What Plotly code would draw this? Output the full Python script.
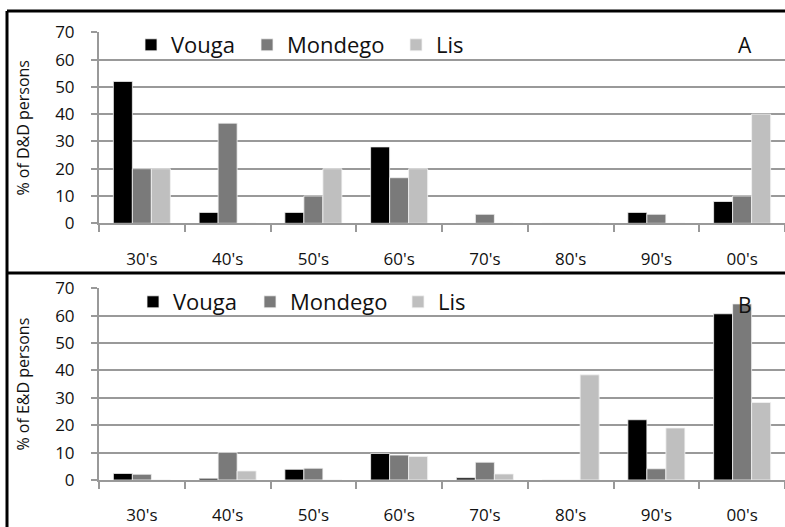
import plotly.graph_objects as go

decades = ["30's", "40's", "50's", "60's", "70's", "80's", "90's", "00's"]
series_names = ["Vouga", "Mondego", "Lis"]

# Panel A: % of D&D persons
dd_vouga = [52, 4, 4, 28, 0, 0, 4, 8]
dd_mondego = [20, 36.7, 10, 16.7, 3.3, 0, 3.3, 10]
dd_lis = [20, 0, 20, 20, 0, 0, 0, 40]

# Panel B: % of E&D persons
ed_vouga = [2.4, 0.6, 3.9, 9.7, 0.8, 0, 22.0, 60.7]
ed_mondego = [2.1, 10.1, 4.3, 9.1, 6.5, 0, 4.1, 64.3]
ed_lis = [0, 3.3, 0, 8.6, 2.2, 38.4, 19.0, 28.3]

y_ticks = [0, 10, 20, 30, 40, 50, 60, 70]
panel_letters = ["A", "B"]
y_titles = ["% of D&D persons", "% of E&D persons"]

colors = ["#000000", "#7a7a7a", "#bfbfbf"]
W, H = 785, 527
FONT = "Open Sans"
GRID = "#999999"

def px_x(p):
    return p / W

def px_y(p):
    return 1 - p / H

fig = go.Figure()

panels = [
    ([dd_vouga, dd_mondego, dd_lis], "x", "y", ["legend", "legend2", "legend3"]),
    ([ed_vouga, ed_mondego, ed_lis], "x2", "y2", ["legend4", "legend5", "legend6"]),
]
for vals, xa, ya, legs in panels:
    for name, v, c, lg in zip(series_names, vals, colors, legs):
        fig.add_trace(go.Bar(
            x=decades, y=v, name=name,
            marker=dict(color=c, line=dict(width=0.8, color="#f2f2f2")),
            xaxis=xa, yaxis=ya, legend=lg, showlegend=True,
        ))

# panel pixel geometry
top_y0, top_y70 = 223.3, 32.3
bot_y0, bot_y70 = 480.0, 288.3
x_left = 99

def xaxis_cfg(anchor):
    return dict(domain=[px_x(x_left), 1], anchor=anchor, type="category",
                showline=True, linecolor=GRID, linewidth=2,
                ticks="outside", tickson="boundaries", ticklen=7, tickcolor=GRID, tickwidth=2,
                ticklabelstandoff=19, showgrid=False,
                tickfont=dict(family=FONT, size=17, color="#111"))

def yaxis_cfg(anchor, y0, y70, title):
    return dict(domain=[px_y(y0), px_y(y70)], anchor=anchor, range=[0, 70],
                tickmode="array", tickvals=y_ticks,
                showline=True, linecolor=GRID, linewidth=2,
                ticks="outside", ticklen=6, tickcolor=GRID, tickwidth=2,
                ticklabelstandoff=13,
                showgrid=True, gridcolor=GRID, gridwidth=2, zeroline=False,
                tickfont=dict(family=FONT, size=17, color="#111"),
                title=dict(text=title, font=dict(family=FONT, size=16, color="#111"), standoff=22))

fig.update_layout(
    width=W, height=H,
    margin=dict(l=0, r=0, t=0, b=0, autoexpand=False),
    paper_bgcolor="white", plot_bgcolor="white",
    barmode="group", bargap=0.335, bargroupgap=0,
    font=dict(family=FONT, color="#111"),
    xaxis=xaxis_cfg("y"),
    yaxis=yaxis_cfg("x", top_y0, top_y70, y_titles[0]),
    xaxis2=xaxis_cfg("y2"),
    yaxis2=yaxis_cfg("x2", bot_y0, bot_y70, y_titles[1]),
)

leg_font = dict(family=FONT, size=22, color="#111")
leg_pos = {
    "legend": (146, 45), "legend2": (262, 45), "legend3": (411, 45),
    "legend4": (148, 302), "legend5": (265, 302), "legend6": (413, 302),
}
for lg, (lx, ly) in leg_pos.items():
    fig.update_layout({lg: dict(
        x=px_x(lx - 15), y=px_y(ly), xanchor="left", yanchor="middle",
        xref="paper", yref="paper", orientation="h",
        bgcolor="rgba(0,0,0,0)", borderwidth=0, font=leg_font,
        itemclick=False, itemdoubleclick=False,
    )})

for letter, ly in zip(panel_letters, [45, 305]):
    fig.add_annotation(text=letter, x=px_x(745), y=px_y(ly), xref="paper", yref="paper",
                       showarrow=False, font=dict(family=FONT, size=21, color="#111"),
                       xanchor="center", yanchor="middle")

# black frame lines
line_black = dict(color="black", width=3)
fig.add_shape(type="line", xref="paper", yref="paper", x0=px_x(7), x1=1.01, y0=px_y(11), y1=px_y(11), line=line_black)
fig.add_shape(type="line", xref="paper", yref="paper", x0=px_x(7), x1=1.01, y0=px_y(273), y1=px_y(273), line=line_black)
fig.add_shape(type="line", xref="paper", yref="paper", x0=px_x(7), x1=px_x(7), y0=px_y(11), y1=-0.01, line=line_black)

fig.write_html(
    "out.html",
    config={"responsive": False, "displayModeBar": False},
    post_script="document.body.style.margin='0';document.body.style.overflow='hidden';",
)
